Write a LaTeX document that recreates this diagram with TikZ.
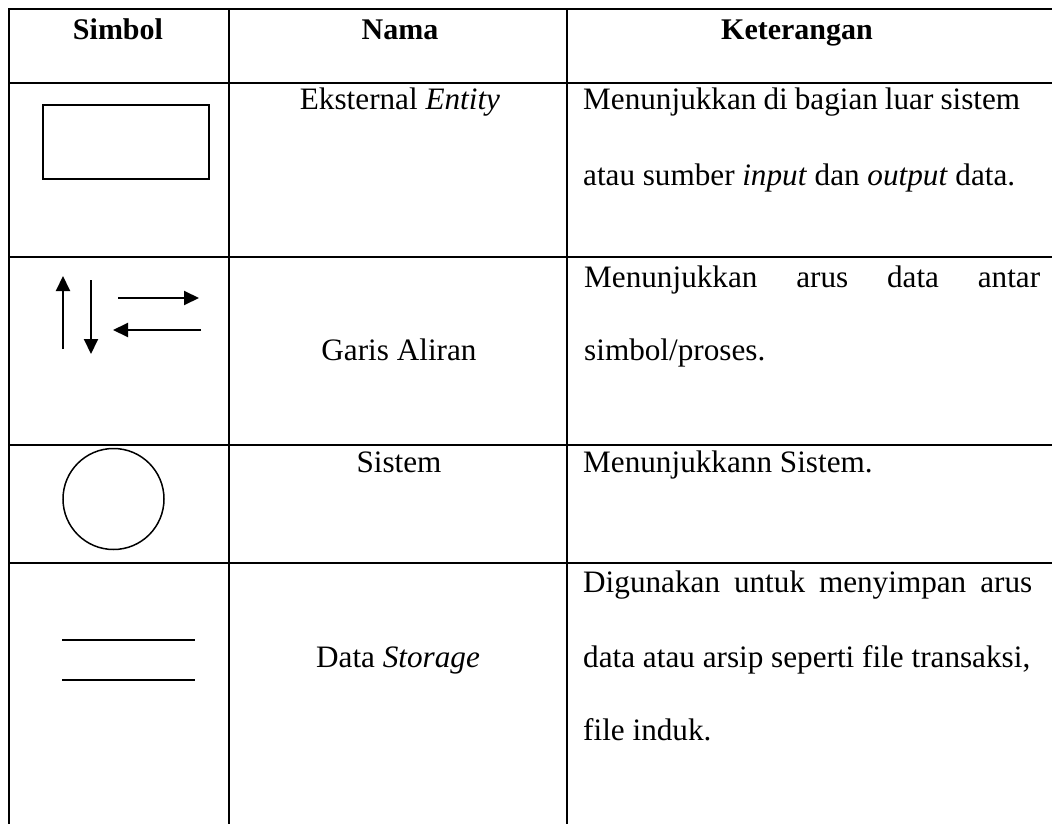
\documentclass[tikz,border=0pt]{standalone}
\usepackage{fontspec}
\setmainfont{Liberation Serif}
\usetikzlibrary{arrows.meta}

% a justified line of given width
\newcommand{\jline}[2]{\hbox to #1pt{#2}}

\tikzset{
  gridline/.style={line width=2pt, line cap=rect},
  symline/.style={line width=1.5pt},
  flowline/.style={line width=2pt, -{Triangle[length=15pt,width=14pt]}},
  bodytext/.style={font=\fontsize{31.2}{37}\selectfont, inner sep=0pt},
  headtext/.style={font=\fontsize{30}{36}\selectfont\bfseries, inner sep=0pt, anchor=base},
  desctext/.style={bodytext, anchor=base west},
  nametext/.style={bodytext, anchor=base}
}

\begin{document}
\begin{tikzpicture}[x=1pt, y=-1pt]

  \useasboundingbox (0,0) rectangle (1052,824);

  % table rules (right and bottom edges fall outside the frame)
  \draw[gridline] (9,9) -- (1054,9);
  \draw[gridline] (9,83) -- (1054,83);
  \draw[gridline] (9,257) -- (1054,257);
  \draw[gridline] (9,445) -- (1054,445);
  \draw[gridline] (9,563) -- (1054,563);
  \draw[gridline] (9,9) -- (9,826);
  \draw[gridline] (229,9) -- (229,826);
  \draw[gridline] (567,9) -- (567,826);

  % header
  \node[headtext] (hSimbol) at (118,40) {Simbol};
  \node[headtext] (hNama) at (400,40) {Nama};
  \node[headtext] (hKet) at (797,40) {Keterangan};

  % row 1: external entity
  \draw[symline] (43,105) rectangle (209,179);
  \node[nametext] (n1) at (400,110) {Eksternal \textit{Entity}};
  \node[desctext] (k1a) at (583,110) {\jline{437}{Menunjukkan di bagian luar sistem}};
  \node[desctext] (k1b) at (583,185) {\jline{432}{atau sumber \textit{input} dan \textit{output} data.}};

  % row 2: flow lines
  \coordinate (upS) at (63,349);   \coordinate (upE) at (63,276);
  \coordinate (dnS) at (91,280);   \coordinate (dnE) at (91,354);
  \coordinate (rtS) at (118,298);  \coordinate (rtE) at (199,298);
  \coordinate (ltS) at (201,330);  \coordinate (ltE) at (113,330);
  \draw[flowline] (upS) -- (upE);
  \draw[flowline] (dnS) -- (dnE);
  \draw[flowline] (rtS) -- (rtE);
  \draw[flowline] (ltS) -- (ltE);
  \node[nametext] (n2) at (399,360) {Garis Aliran};
  \node[desctext] (k2a) at (584,287) {\jline{456}{Menunjukkan\hfil arus\hfil data\hfil antar}};
  \node[desctext] (k2b) at (584,360) {simbol/proses.};

  % row 3: system
  \draw[symline] (113.5,499) circle (50.5);
  \node[nametext] (n3) at (399,472) {Sistem};
  \node[desctext] (k3a) at (583,472) {Menunjukkann Sistem.};

  % row 4: data storage
  \draw[symline] (62,640) -- (195,640);
  \draw[symline] (62,680) -- (195,680);
  \node[nametext] (n4) at (398,667) {Data \textit{Storage}};
  \node[desctext] (k4a) at (583,592) {\jline{449}{Digunakan untuk menyimpan arus}};
  \node[desctext] (k4b) at (583,667) {data atau arsip seperti file transaksi,};
  \node[desctext] (k4c) at (583,740) {file induk.};
\end{tikzpicture}
\end{document}
